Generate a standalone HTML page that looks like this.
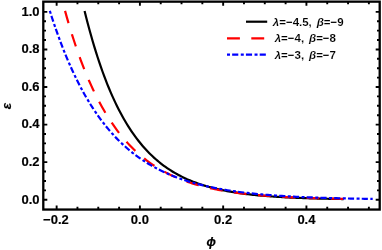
<!DOCTYPE html>
<html><head><meta charset="utf-8"><title>plot</title>
<style>
html,body{margin:0;padding:0;background:#fff;}
body{width:382px;height:250px;overflow:hidden;}
svg{display:block;will-change:transform;filter:blur(0.3px);}
text{font-family:"Liberation Sans",sans-serif;font-weight:bold;fill:#000;}
.t{font-size:13px;stroke:#000;stroke-width:0.15px;}
.lg{font-size:11.5px;stroke:#fff;stroke-width:0.12px;paint-order:fill stroke;}
.i{font-style:italic;}
.ax{stroke:#000;stroke-width:0.2px;}
</style></head><body>
<svg width="382" height="250" viewBox="0 0 382 250">
<rect width="382" height="250" fill="#fff"/>
<path d="M84.59 10.91 L86.21 17.40 L87.83 23.68 L89.45 29.73 L91.07 35.58 L92.69 41.22 L94.30 46.68 L95.92 51.94 L97.54 57.02 L99.16 61.93 L100.78 66.67 L102.40 71.25 L104.02 75.67 L105.64 79.94 L107.25 84.06 L108.87 88.03 L110.49 91.88 L112.11 95.59 L113.73 99.17 L115.35 102.63 L116.97 105.97 L118.59 109.19 L120.20 112.31 L121.82 115.32 L123.44 118.22 L125.06 121.02 L126.68 123.73 L128.30 126.34 L129.92 128.87 L131.54 131.31 L133.15 133.66 L134.77 135.93 L136.39 138.13 L138.01 140.25 L139.63 142.29 L141.25 144.27 L142.87 146.18 L144.49 148.02 L146.10 149.80 L147.72 151.52 L149.34 153.18 L150.96 154.78 L152.58 156.32 L154.20 157.82 L155.82 159.26 L157.44 160.65 L159.06 162.00 L160.67 163.30 L162.29 164.55 L163.91 165.76 L165.53 166.93 L167.15 168.06 L168.77 169.15 L170.39 170.20 L172.01 171.22 L173.62 172.20 L175.24 173.14 L176.86 174.06 L178.48 174.94 L180.10 175.80 L181.72 176.62 L183.34 177.42 L184.96 178.18 L186.57 178.93 L188.19 179.64 L189.81 180.33 L191.43 181.00 L193.05 181.65 L194.67 182.27 L196.29 182.87 L197.91 183.45 L199.52 184.01 L201.14 184.55 L202.76 185.07 L204.38 185.58 L206.00 186.07 L207.62 186.54 L209.24 186.99 L210.86 187.43 L212.47 187.85 L214.09 188.26 L215.71 188.66 L217.33 189.04 L218.95 189.41 L220.57 189.76 L222.19 190.11 L223.81 190.44 L225.42 190.76 L227.04 191.07 L228.66 191.37 L230.28 191.66 L231.90 191.93 L233.52 192.20 L235.14 192.46 L236.76 192.71 L238.38 192.95 L239.99 193.19 L241.61 193.41 L243.23 193.63 L244.85 193.84 L246.47 194.05 L248.09 194.24 L249.71 194.43 L251.33 194.61 L252.94 194.79 L254.56 194.96 L256.18 195.13 L257.80 195.28 L259.42 195.44 L261.04 195.59 L262.66 195.73 L264.28 195.87 L265.89 196.00 L267.51 196.13 L269.13 196.26 L270.75 196.38 L272.37 196.49 L273.99 196.60 L275.61 196.71 L277.23 196.82 L278.84 196.92 L280.46 197.01 L282.08 197.11 L283.70 197.20 L285.32 197.29 L286.94 197.37 L288.56 197.45 L290.18 197.53 L291.79 197.61 L293.41 197.68 L295.03 197.75 L296.65 197.82 L298.27 197.89 L299.89 197.95 L301.51 198.01 L303.13 198.07 L304.74 198.13 L306.36 198.19 L307.98 198.24 L309.60 198.29 L311.22 198.34 L312.84 198.39 L314.46 198.44 L316.08 198.48 L317.70 198.53 L319.31 198.57 L320.93 198.61 L322.55 198.65 L324.17 198.69 L325.79 198.72 L327.41 198.76 L329.03 198.79 L330.65 198.83 L332.26 198.86 L333.88 198.89 L335.50 198.92 L337.12 198.95 L338.74 198.97 L340.36 199.00 L341.98 199.03 L343.60 199.05" fill="none" stroke="#000000" stroke-width="2.2" />
<path d="M65.05 10.91 L66.79 17.12 L68.53 23.13 L70.27 28.94 L72.01 34.56 L73.76 40.00 L75.50 45.25 L77.24 50.34 L78.98 55.25 L80.72 60.01 L82.46 64.60 L84.20 69.05 L85.94 73.35 L87.68 77.51 L89.42 81.53 L91.16 85.42 L92.91 89.18 L94.65 92.82 L96.39 96.34 L98.13 99.74 L99.87 103.03 L101.61 106.21 L103.35 109.29 L105.09 112.27 L106.83 115.15 L108.57 117.93 L110.31 120.62 L112.06 123.23 L113.80 125.74 L115.54 128.18 L117.28 130.53 L119.02 132.81 L120.76 135.01 L122.50 137.14 L124.24 139.20 L125.98 141.19 L127.72 143.12 L129.46 144.98 L131.21 146.79 L132.95 148.53 L134.69 150.21 L136.43 151.84 L138.17 153.42 L139.91 154.94 L141.65 156.42 L143.39 157.84 L145.13 159.22 L146.87 160.56 L148.61 161.85 L150.36 163.09 L152.10 164.30 L153.84 165.47 L155.58 166.59 L157.32 167.68 L159.06 168.74 L160.80 169.76 L162.54 170.75 L164.28 171.70 L166.02 172.62 L167.76 173.52 L169.50 174.38 L171.25 175.21 L172.99 176.02 L174.73 176.80 L176.47 177.56 L178.21 178.29 L179.95 178.99 L181.69 179.68 L183.43 180.34 L185.17 180.98 L186.91 181.59 L188.65 182.19 L190.40 182.77 L192.14 183.33 L193.88 183.87 L195.62 184.39 L197.36 184.90 L199.10 185.38 L200.84 185.86 L202.58 186.31 L204.32 186.76 L206.06 187.18 L207.80 187.60 L209.55 188.00 L211.29 188.38 L213.03 188.76 L214.77 189.12 L216.51 189.47 L218.25 189.81 L219.99 190.13 L221.73 190.45 L223.47 190.76 L225.21 191.05 L226.95 191.34 L228.70 191.62 L230.44 191.88 L232.18 192.14 L233.92 192.39 L235.66 192.63 L237.40 192.87 L239.14 193.09 L240.88 193.31 L242.62 193.53 L244.36 193.73 L246.10 193.93 L247.85 194.12 L249.59 194.31 L251.33 194.48 L253.07 194.66 L254.81 194.83 L256.55 194.99 L258.29 195.14 L260.03 195.30 L261.77 195.44 L263.51 195.58 L265.25 195.72 L267.00 195.85 L268.74 195.98 L270.48 196.11 L272.22 196.23 L273.96 196.34 L275.70 196.45 L277.44 196.56 L279.18 196.67 L280.92 196.77 L282.66 196.87 L284.40 196.96 L286.15 197.05 L287.89 197.14 L289.63 197.23 L291.37 197.31 L293.11 197.39 L294.85 197.47 L296.59 197.54 L298.33 197.62 L300.07 197.69 L301.81 197.75 L303.55 197.82 L305.30 197.88 L307.04 197.94 L308.78 198.00 L310.52 198.06 L312.26 198.12 L314.00 198.17 L315.74 198.22 L317.48 198.27 L319.22 198.32 L320.96 198.37 L322.70 198.41 L324.45 198.46 L326.19 198.50 L327.93 198.54 L329.67 198.58 L331.41 198.62 L333.15 198.66 L334.89 198.69 L336.63 198.73 L338.37 198.76 L340.11 198.79 L341.85 198.83 L343.60 198.86" fill="none" stroke="#ff0000" stroke-width="2.2" stroke-dasharray="12.7 11.6"/>
<path d="M49.83 10.91 L51.84 17.21 L53.86 23.30 L55.88 29.19 L57.90 34.88 L59.92 40.38 L61.93 45.69 L63.95 50.83 L65.97 55.80 L67.99 60.60 L70.01 65.25 L72.02 69.73 L74.04 74.07 L76.06 78.26 L78.08 82.32 L80.09 86.24 L82.11 90.02 L84.13 93.68 L86.15 97.22 L88.17 100.64 L90.18 103.95 L92.20 107.14 L94.22 110.23 L96.24 113.22 L98.26 116.11 L100.27 118.90 L102.29 121.60 L104.31 124.20 L106.33 126.72 L108.35 129.16 L110.36 131.51 L112.38 133.79 L114.40 135.99 L116.42 138.12 L118.44 140.17 L120.45 142.16 L122.47 144.08 L124.49 145.94 L126.51 147.74 L128.53 149.47 L130.54 151.15 L132.56 152.77 L134.58 154.34 L136.60 155.85 L138.61 157.32 L140.63 158.73 L142.65 160.10 L144.67 161.42 L146.69 162.70 L148.70 163.94 L150.72 165.13 L152.74 166.29 L154.76 167.40 L156.78 168.48 L158.79 169.53 L160.81 170.53 L162.83 171.51 L164.85 172.45 L166.87 173.36 L168.88 174.24 L170.90 175.09 L172.92 175.92 L174.94 176.71 L176.96 177.48 L178.97 178.22 L180.99 178.94 L183.01 179.64 L185.03 180.31 L187.05 180.96 L189.06 181.58 L191.08 182.19 L193.10 182.77 L195.12 183.34 L197.13 183.89 L199.15 184.42 L201.17 184.93 L203.19 185.42 L205.21 185.90 L207.22 186.36 L209.24 186.81 L211.26 187.24 L213.28 187.66 L215.30 188.06 L217.31 188.45 L219.33 188.83 L221.35 189.19 L223.37 189.55 L225.39 189.89 L227.40 190.22 L229.42 190.53 L231.44 190.84 L233.46 191.14 L235.48 191.43 L237.49 191.70 L239.51 191.97 L241.53 192.23 L243.55 192.48 L245.57 192.72 L247.58 192.96 L249.60 193.19 L251.62 193.40 L253.64 193.62 L255.65 193.82 L257.67 194.02 L259.69 194.21 L261.71 194.39 L263.73 194.57 L265.74 194.75 L267.76 194.91 L269.78 195.07 L271.80 195.23 L273.82 195.38 L275.83 195.53 L277.85 195.67 L279.87 195.80 L281.89 195.94 L283.91 196.06 L285.92 196.19 L287.94 196.30 L289.96 196.42 L291.98 196.53 L294.00 196.64 L296.01 196.74 L298.03 196.84 L300.05 196.94 L302.07 197.03 L304.09 197.12 L306.10 197.21 L308.12 197.30 L310.14 197.38 L312.16 197.46 L314.17 197.53 L316.19 197.61 L318.21 197.68 L320.23 197.75 L322.25 197.81 L324.26 197.88 L326.28 197.94 L328.30 198.00 L330.32 198.06 L332.34 198.12 L334.35 198.17 L336.37 198.22 L338.39 198.27 L340.41 198.32 L342.43 198.37 L344.44 198.42 L346.46 198.46 L348.48 198.51 L350.50 198.55 L352.52 198.59 L354.53 198.63 L356.55 198.66 L358.57 198.70 L360.59 198.73 L362.61 198.77 L364.62 198.80 L366.64 198.83 L368.66 198.86 L370.68 198.89 L372.69 198.92" fill="none" stroke="#0000ff" stroke-width="2.2" stroke-dasharray="3.0 2.15 6.15 2.47"/>
<rect x="43.30" y="1.65" width="336.40" height="207.90" fill="none" stroke="#000" stroke-width="2.30"/>
<path d="M56.64 209.55 v-4.00 M56.64 1.65 v4.00 M77.45 209.55 v-2.70 M77.45 1.65 v2.70 M98.27 209.55 v-2.70 M98.27 1.65 v2.70 M119.09 209.55 v-2.70 M119.09 1.65 v2.70 M139.90 209.55 v-4.00 M139.90 1.65 v4.00 M160.72 209.55 v-2.70 M160.72 1.65 v2.70 M181.53 209.55 v-2.70 M181.53 1.65 v2.70 M202.35 209.55 v-2.70 M202.35 1.65 v2.70 M223.16 209.55 v-4.00 M223.16 1.65 v4.00 M243.98 209.55 v-2.70 M243.98 1.65 v2.70 M264.79 209.55 v-2.70 M264.79 1.65 v2.70 M285.61 209.55 v-2.70 M285.61 1.65 v2.70 M306.42 209.55 v-4.00 M306.42 1.65 v4.00 M327.24 209.55 v-2.70 M327.24 1.65 v2.70 M348.05 209.55 v-2.70 M348.05 1.65 v2.70 M368.87 209.55 v-2.70 M368.87 1.65 v2.70 M43.30 199.75 h4.00 M379.70 199.75 h-4.00 M43.30 190.35 h2.70 M379.70 190.35 h-2.70 M43.30 180.96 h2.70 M379.70 180.96 h-2.70 M43.30 171.56 h2.70 M379.70 171.56 h-2.70 M43.30 162.17 h4.00 M379.70 162.17 h-4.00 M43.30 152.78 h2.70 M379.70 152.78 h-2.70 M43.30 143.38 h2.70 M379.70 143.38 h-2.70 M43.30 133.98 h2.70 M379.70 133.98 h-2.70 M43.30 124.59 h4.00 M379.70 124.59 h-4.00 M43.30 115.19 h2.70 M379.70 115.19 h-2.70 M43.30 105.80 h2.70 M379.70 105.80 h-2.70 M43.30 96.40 h2.70 M379.70 96.40 h-2.70 M43.30 87.01 h4.00 M379.70 87.01 h-4.00 M43.30 77.61 h2.70 M379.70 77.61 h-2.70 M43.30 68.22 h2.70 M379.70 68.22 h-2.70 M43.30 58.82 h2.70 M379.70 58.82 h-2.70 M43.30 49.43 h4.00 M379.70 49.43 h-4.00 M43.30 40.03 h2.70 M379.70 40.03 h-2.70 M43.30 30.64 h2.70 M379.70 30.64 h-2.70 M43.30 21.24 h2.70 M379.70 21.24 h-2.70 M43.30 11.85 h4.00 M379.70 11.85 h-4.00" stroke="#000" stroke-width="1.90" fill="none"/>
<text class="t" x="55.94" y="224.3" text-anchor="middle">−0.2</text>
<text class="t" x="139.90" y="224.3" text-anchor="middle">0.0</text>
<text class="t" x="223.16" y="224.3" text-anchor="middle">0.2</text>
<text class="t" x="306.42" y="224.3" text-anchor="middle">0.4</text>
<text class="t" x="39.6" y="203.50" text-anchor="end">0.0</text>
<text class="t" x="39.6" y="165.92" text-anchor="end">0.2</text>
<text class="t" x="39.6" y="128.34" text-anchor="end">0.4</text>
<text class="t" x="39.6" y="90.76" text-anchor="end">0.6</text>
<text class="t" x="39.6" y="53.18" text-anchor="end">0.8</text>
<text class="t" x="39.6" y="15.60" text-anchor="end">1.0</text>
<text class="i ax" font-size="12.4" x="211.3" y="245.8" text-anchor="middle">ϕ</text>
<text class="i ax" font-size="13.3" transform="translate(11.3,106) rotate(-90)" text-anchor="middle">ε</text>
<path d="M246 21.7 H267.2" stroke="#000" stroke-width="2.2"/>
<path d="M227 38.3 H267" stroke="#f00" stroke-width="2.2" stroke-dasharray="12.9 11.4 12.9 40"/>
<path d="M227 54.7 H266.2" stroke="#00f" stroke-width="2.2" stroke-dasharray="3.0 2.15 6.15 2.47"/>
<text class="lg" x="272.80" y="26.00"><tspan class="i">λ</tspan>=−4.5, <tspan class="i" dx="1.7">β</tspan>=−9</text>
<text class="lg" x="274.70" y="42.00"><tspan class="i">λ</tspan>=−4, <tspan class="i" dx="1.7">β</tspan>=−8</text>
<text class="lg" x="274.70" y="58.60"><tspan class="i">λ</tspan>=−3, <tspan class="i" dx="1.7">β</tspan>=−7</text>
</svg></body></html>
